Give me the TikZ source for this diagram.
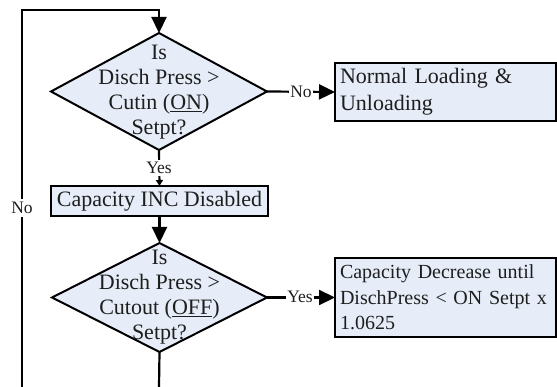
\documentclass[tikz,border=0pt]{standalone}
\usepackage{fontspec}
\setmainfont{Liberation Serif}
\usetikzlibrary{shapes.geometric,arrows.meta}
\definecolor{boxfill}{RGB}{230,237,248}
\definecolor{ink}{RGB}{30,30,30}
\begin{document}
\begin{tikzpicture}[x=1pt,y=-1pt,
  decision/.style={diamond, draw=black, line width=2pt, fill=boxfill,
    inner sep=0pt, outer sep=0pt},
  dtext/.style={align=center, inner sep=0pt, text=ink,
    font=\fontsize{22}{25}\selectfont},
  procbox/.style={rectangle, draw=black, line width=2.5pt, fill=boxfill,
    inner xsep=5pt, inner ysep=0pt, outer sep=0pt, text=ink},
  conn/.style={line width=2.2pt, draw=black},
  bigtip/.style={-{Triangle[length=16pt,width=15pt]}},
  smalltip/.style={-{Triangle[length=6pt,width=7pt]}},
  lbl/.style={fill=white, inner sep=1pt, text=ink,
    font=\fontsize{17.5}{19}\selectfont}
]
\useasboundingbox (0,0) rectangle (557,387);

% first test: discharge pressure against cut-in setpoint
\node[decision, minimum width=216pt, minimum height=117pt] (d1) at (159,91.5) {};
\node[dtext] (d1text) at (159,92.5) {Is\\Disch Press >\\Cutin (\underline{ON})\\Setpt?};

% normal operation box
\node[procbox, minimum width=221pt, minimum height=58pt, text width=211pt,
  align=left, font=\fontsize{22}{27}\selectfont] (normal) at (445.5,92)
  {Normal Loading \&\\Unloading};

% capacity increase inhibited
\node[procbox, minimum width=217pt, minimum height=30pt,
  font=\fontsize{22}{25}\selectfont] (incdis) at (159.5,201) {Capacity INC Disabled};

% second test: discharge pressure against cut-out setpoint
\node[decision, minimum width=215pt, minimum height=109pt] (d2) at (159.5,297.5) {};
\node[dtext] (d2text) at (159.5,297) {Is\\Disch Press >\\Cutout (\underline{OFF})\\Setpt?};

% forced unloading box
\node[procbox, minimum width=221pt, minimum height=79pt, text width=211pt,
  align=left, font=\fontsize{20}{25.5}\selectfont] (decrease) at (445.5,297.5)
  {Capacity Decrease until\\DischPress < ON Setpt x\\1.0625};

% loop-back path
\coordinate (loopbot) at (22,387);
\coordinate (looptop) at (22,10);
\coordinate (d2out) at (159,387);

\draw[conn] (d2.south) -- (d2out);
\draw[conn, bigtip] (loopbot) -- (looptop) -| (d1.north);
\node[lbl, inner ysep=3pt] (loopno) at (22,208) {No};

% branches
\draw[conn, bigtip] (d1.east) -- (normal.west);
\node[lbl] (d1no) at (301,92) {No};

\draw[conn, smalltip] (d1.south) -- (incdis.north);
\node[lbl, inner ysep=2pt] (d1yes) at (159,168) {Yes};

\draw[conn, bigtip] (incdis.south) -- (d2.north);

\draw[conn, bigtip] (d2.east) -- (decrease.west);
\node[lbl] (d2yes) at (300,297) {Yes};
\end{tikzpicture}
\end{document}
